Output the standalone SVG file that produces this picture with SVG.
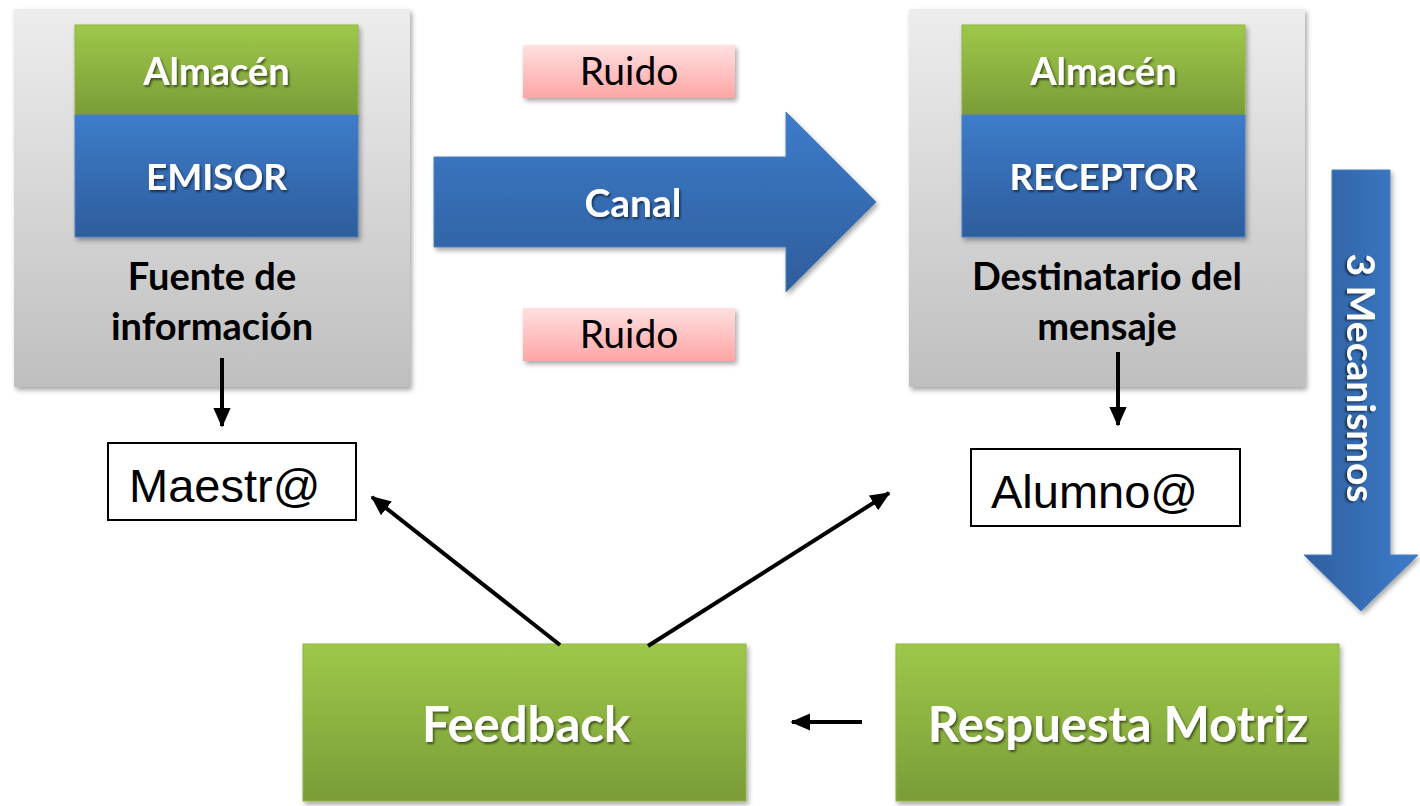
<svg xmlns="http://www.w3.org/2000/svg" width="1420" height="806" viewBox="0 0 1420 806">
<defs>
  <linearGradient id="gGray" x1="0" y1="0" x2="0" y2="1">
    <stop offset="0" stop-color="#ededed"/>
    <stop offset="1" stop-color="#bfbfbf"/>
  </linearGradient>
  <linearGradient id="gGreen" x1="0" y1="0" x2="0" y2="1">
    <stop offset="0" stop-color="#9ec84a"/>
    <stop offset="1" stop-color="#7a9c38"/>
  </linearGradient>
  <linearGradient id="gBlue" x1="0" y1="0" x2="0" y2="1">
    <stop offset="0" stop-color="#3d7cca"/>
    <stop offset="1" stop-color="#2e5d9c"/>
  </linearGradient>
  <linearGradient id="gBlueH" x1="0" y1="0" x2="1" y2="0">
    <stop offset="0" stop-color="#2f5f9f"/>
    <stop offset="1" stop-color="#3d7cca"/>
  </linearGradient>
  <linearGradient id="gPink" x1="0" y1="0" x2="0" y2="1">
    <stop offset="0" stop-color="#ffe0e0"/>
    <stop offset="1" stop-color="#ffa5a5"/>
  </linearGradient>
  <filter id="shadow" x="-10%" y="-10%" width="125%" height="125%">
    <feDropShadow dx="2" dy="3" stdDeviation="2.5" flood-color="#000" flood-opacity="0.35"/>
  </filter>
  <filter id="tshadow" x="-10%" y="-20%" width="125%" height="150%">
    <feDropShadow dx="1.5" dy="2" stdDeviation="1.2" flood-color="#000" flood-opacity="0.55"/>
  </filter>
  <marker id="ah" markerWidth="5" markerHeight="4.4" refX="4.6" refY="2.2" orient="auto" markerUnits="strokeWidth">
    <path d="M0,0 L5,2.2 L0,4.4 Z" fill="#000"/>
  </marker>
</defs>
<style>
  .bw { font-family: Lato, "Open Sans", "Liberation Sans", sans-serif; font-weight: bold; fill: #ffffff; text-anchor: middle; }
  .bk { font-family: Lato, "Open Sans", "Liberation Sans", sans-serif; font-weight: bold; fill: #000000; text-anchor: middle; }
  .rk { font-family: Lato, "Open Sans", "Liberation Sans", sans-serif; fill: #000000; text-anchor: middle; }
  .ar { font-family: "Liberation Sans", Arial, sans-serif; fill: #000000; }
  .conn { stroke: #000; stroke-width: 4; fill: none; marker-end: url(#ah); }
  .wbox { fill: #ffffff; stroke: #000; stroke-width: 2; }
</style>

<g id="emisor-panel">
  <rect x="14" y="9" width="396" height="378" fill="url(#gGray)" filter="url(#shadow)"/>
  <rect x="75" y="25" width="283" height="90" fill="url(#gGreen)" stroke="#8fb444" stroke-width="1" filter="url(#shadow)"/>
  <rect x="75" y="115" width="283" height="122" fill="url(#gBlue)" stroke="#4a7fc0" stroke-width="1" filter="url(#shadow)"/>
  <text class="bw" x="216.5" y="85" font-size="38" filter="url(#tshadow)">Almacén</text>
  <text class="bw" x="216.5" y="190" font-size="37" filter="url(#tshadow)">EMISOR</text>
  <text class="bk" x="212" y="290" font-size="38">Fuente de</text>
  <text class="bk" x="212" y="340" font-size="38">información</text>
</g>

<g id="receptor-panel">
  <rect x="909" y="9" width="396" height="378" fill="url(#gGray)" filter="url(#shadow)"/>
  <rect x="962" y="25" width="283" height="90" fill="url(#gGreen)" stroke="#8fb444" stroke-width="1" filter="url(#shadow)"/>
  <rect x="962" y="115" width="283" height="122" fill="url(#gBlue)" stroke="#4a7fc0" stroke-width="1" filter="url(#shadow)"/>
  <text class="bw" x="1103.5" y="85" font-size="38" filter="url(#tshadow)">Almacén</text>
  <text class="bw" x="1103.5" y="190" font-size="37" filter="url(#tshadow)">RECEPTOR</text>
  <text class="bk" x="1107" y="290" font-size="38">Destinatario del</text>
  <text class="bk" x="1107" y="340" font-size="38">mensaje</text>
</g>

<g id="ruido-1">
  <rect x="523" y="45" width="212" height="53" fill="url(#gPink)" filter="url(#shadow)"/>
  <text class="rk" x="629" y="85" font-size="39">Ruido</text>
</g>
<g id="ruido-2">
  <rect x="523" y="308" width="212" height="53" fill="url(#gPink)" filter="url(#shadow)"/>
  <text class="rk" x="629" y="348" font-size="39">Ruido</text>
</g>

<g id="canal">
  <path d="M434,157 L786,157 L786,112 L876,202 L786,292 L786,247 L434,247 Z" fill="url(#gBlue)" stroke="#4a7fc0" stroke-width="1" filter="url(#shadow)"/>
  <text class="bw" x="633" y="217" font-size="39" filter="url(#tshadow)">Canal</text>
</g>

<g id="mecanismos">
  <path d="M1332,170 L1390,170 L1390,555 L1418,555 L1361,611 L1304,555 L1332,555 Z" fill="url(#gBlueH)" stroke="#4a7fc0" stroke-width="1" filter="url(#shadow)"/>
  <text class="bw" x="0" y="0" font-size="39" transform="translate(1347,378) rotate(90)" filter="url(#tshadow)">3 Mecanismos</text>
</g>

<g id="maestro">
  <rect class="wbox" x="108" y="443" width="248" height="77"/>
  <text class="ar" x="129" y="502" font-size="47">Maestr@</text>
</g>

<g id="alumno">
  <rect class="wbox" x="971" y="449" width="269" height="77"/>
  <text class="ar" x="991" y="508" font-size="47">Alumno@</text>
</g>

<g id="feedback">
  <rect x="303" y="644" width="443" height="157" fill="url(#gGreen)" stroke="#8fb444" stroke-width="1" filter="url(#shadow)"/>
  <text class="bw" x="526" y="742" font-size="49" filter="url(#tshadow)">Feedback</text>
</g>

<g id="respuesta">
  <rect x="896" y="644" width="443" height="157" fill="url(#gGreen)" stroke="#8fb444" stroke-width="1" filter="url(#shadow)"/>
  <text class="bw" x="1118" y="742" font-size="49" filter="url(#tshadow)">Respuesta Motriz</text>
</g>

<g id="connectors">
  <line class="conn" x1="222" y1="358" x2="222" y2="426"/>
  <line class="conn" x1="1118" y1="352" x2="1118" y2="425"/>
  <line class="conn" x1="560" y1="645" x2="372" y2="497"/>
  <line class="conn" x1="648" y1="646" x2="889" y2="493"/>
  <line class="conn" x1="862" y1="722" x2="792" y2="722"/>
</g>
</svg>
